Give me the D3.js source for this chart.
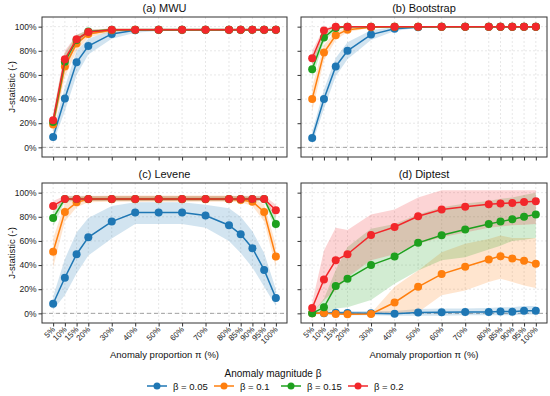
<!DOCTYPE html>
<html>
<head>
<meta charset="utf-8">
<script src="https://cdn.jsdelivr.net/npm/d3@7/dist/d3.min.js"></script>
<style>
  body { margin: 0; background: #fff; }
  svg { font-family: "Liberation Sans", Arial, sans-serif; }
</style>
</head>
<body>
<svg id="chart" width="550" height="396"></svg>
<script>
// anomaly proportions (%)
const props = [5, 10, 15, 20, 30, 40, 50, 60, 70, 80, 85, 90, 95, 100];
const betas = ["β = 0.05", "β = 0.1", "β = 0.15", "β = 0.2"];
const colors = ["#1f77b4", "#ff7f0e", "#1ea01e", "#f2272b"];
const panelTitles = ["(a) MWU", "(b) Bootstrap", "(c) Levene", "(d) Diptest"];
const yTicks = [0, 20, 40, 60, 80, 100];

// J-statistic (%), one row per beta
const mwuMean = [
  [8.5, 40.5, 70.5, 84, 94, 97, 97.5, 97.5, 97.5, 97.5, 97.5, 97.5, 97.5, 97.5],
  [19, 67, 86, 94, 97, 97.5, 97.5, 97.5, 97.5, 97.5, 97.5, 97.5, 97.5, 97.5],
  [21, 71, 89, 96, 97.5, 97.5, 97.5, 97.5, 97.5, 97.5, 97.5, 97.5, 97.5, 97.5],
  [22.5, 73, 89.5, 95.5, 97.5, 97.5, 97.5, 97.5, 97.5, 97.5, 97.5, 97.5, 97.5, 97.5]
];
const mwuLo = [
  [4, 30, 60, 77, 90, 95, 96.5, 96.5, 96.5, 96.5, 96.5, 96.5, 96.5, 96.5],
  [13, 58, 80, 91, 95.5, 96.5, 96.5, 96.5, 96.5, 96.5, 96.5, 96.5, 96.5, 96.5],
  [15, 64, 85, 93.5, 96.5, 96.5, 96.5, 96.5, 96.5, 96.5, 96.5, 96.5, 96.5, 96.5],
  [16, 66, 86, 93.5, 96.5, 96.5, 96.5, 96.5, 96.5, 96.5, 96.5, 96.5, 96.5, 96.5]
];
const mwuHi = [
  [14, 50, 80, 90, 97, 98.5, 98.5, 98.5, 98.5, 98.5, 98.5, 98.5, 98.5, 98.5],
  [25, 75, 91, 97, 98.5, 98.5, 98.5, 98.5, 98.5, 98.5, 98.5, 98.5, 98.5, 98.5],
  [27, 78, 93, 97.5, 98.5, 98.5, 98.5, 98.5, 98.5, 98.5, 98.5, 98.5, 98.5, 98.5],
  [28, 80, 93, 97.5, 98.5, 98.5, 98.5, 98.5, 98.5, 98.5, 98.5, 98.5, 98.5, 98.5]
];

const bootMean = [
  [7.7, 40, 67, 80, 93.4, 98.3, 99.5, 100, 100, 100, 100, 100, 100, 100],
  [40, 78.5, 92.8, 97.5, 99.5, 100, 100, 100, 100, 100, 100, 100, 100, 100],
  [64.7, 91, 98.9, 100, 100, 100, 100, 100, 100, 100, 100, 100, 100, 100],
  [73.8, 96.9, 100, 100, 100, 100, 100, 100, 100, 100, 100, 100, 100, 100]
];
const bootLo = [
  [3, 32, 59, 73, 89, 96.5, 99, 100, 100, 100, 100, 100, 100, 100],
  [30, 72, 89, 95.5, 99, 100, 100, 100, 100, 100, 100, 100, 100, 100],
  [57, 87, 97.5, 99.5, 100, 100, 100, 100, 100, 100, 100, 100, 100, 100],
  [67, 94, 99.5, 100, 100, 100, 100, 100, 100, 100, 100, 100, 100, 100]
];
const bootHi = [
  [13, 48, 74, 87, 97, 99.8, 100, 100, 100, 100, 100, 100, 100, 100],
  [50, 85, 96, 99, 100, 100, 100, 100, 100, 100, 100, 100, 100, 100],
  [72, 95, 100, 100, 100, 100, 100, 100, 100, 100, 100, 100, 100, 100],
  [80, 99, 100, 100, 100, 100, 100, 100, 100, 100, 100, 100, 100, 100]
];

const leveneMean = [
  [8, 29.5, 49, 63, 76, 83.5, 83.5, 83.5, 81, 73, 65.5, 54, 36, 12.7],
  [51, 84, 92, 94.5, 94.5, 94.5, 94.5, 94.5, 94.5, 94.5, 94, 92.5, 84, 47],
  [79, 94.8, 94.8, 94.8, 94.8, 94.8, 94.8, 94.8, 94.8, 94.8, 94.8, 94.8, 94.8, 74],
  [89, 94.8, 94.8, 94.8, 94.8, 94.8, 94.8, 94.8, 94.8, 94.8, 94.8, 94.8, 94.8, 85.4]
];
const leveneLo = [
  [3, 15, 33, 48, 62, 74, 74, 74, 71, 60, 50, 38, 22, 6],
  [38, 76, 88, 92, 92.5, 92.5, 92.5, 92.5, 92.5, 92.5, 92, 89, 76, 38],
  [72, 92.5, 93, 93, 93, 93, 93, 93, 93, 93, 93, 93, 93, 68],
  [85, 93, 93, 93, 93, 93, 93, 93, 93, 93, 93, 93, 93, 80]
];
const leveneHi = [
  [14, 45, 67, 79, 89, 92, 92, 92, 90, 87, 80, 68, 50, 20],
  [62, 91, 96, 97, 97.5, 97.5, 97.5, 97.5, 97.5, 97.5, 97, 96, 90, 57],
  [85, 97, 97, 97, 97, 97, 97, 97, 97, 97, 97, 97, 97, 80],
  [93, 97.5, 97.5, 97.5, 97.5, 97.5, 97.5, 97.5, 97.5, 97.5, 97.5, 97.5, 97.5, 90]
];

const dipMean = [
  [0, 0, 0.5, 0.3, 0, -0.3, 0.8, 0.9, 1.1, 1.2, 1.6, 1.4, 2.2, 2.2],
  [0, 0.3, -0.5, -0.8, -0.5, 9, 22, 32.5, 38.6, 44.6, 47.4, 45.5, 43.5, 41],
  [0, 5, 22.6, 28.6, 40, 47, 58.4, 64.7, 69.4, 74, 76, 78, 80, 82],
  [4.4, 28, 44, 49, 65, 71.6, 80.4, 86, 88.4, 90.4, 91, 91.5, 92.3, 92.8]
];
const dipLo = [
  [-1, -1, -1, -1.5, -1.5, -2, -2, -2, -1.5, -1.5, -1.5, -1.5, -1, -1],
  [-0.5, -0.5, -1, -1.5, -1, 0, 1, 15, 19, 26, 28.6, 26, 23, 21],
  [-0.5, 0, 4, 5, 11, 24.5, 35.5, 44, 46.5, 53, 56, 60, 61, 62.5],
  [0, 11, 19, 30, 44, 49, 57.6, 63, 67, 71, 72, 73, 73.5, 74]
];
const dipHi = [
  [1, 1.5, 2, 2, 2, 2, 3.5, 4, 4, 4.5, 5, 5, 6, 6],
  [0.5, 1, 0.5, 0.5, 0, 22, 35.5, 50.7, 57.6, 61.7, 64.5, 62.5, 62.5, 62.5],
  [0.5, 12, 36, 55, 70, 74, 82, 88, 91, 93, 95, 96, 98, 100],
  [9, 52, 71, 69, 82, 86, 96, 102, 102, 102, 102, 102, 102, 102]
];

const panels = [
  { mean: mwuMean, lo: mwuLo, hi: mwuHi, col: 0, row: 0 },
  { mean: bootMean, lo: bootLo, hi: bootHi, col: 1, row: 0 },
  { mean: leveneMean, lo: leveneLo, hi: leveneHi, col: 0, row: 1 },
  { mean: dipMean, lo: dipLo, hi: dipHi, col: 1, row: 1 }
];

const svg = d3.select("#chart");
const colX = [[42, 287], [301, 547]];
const rowY = [[17, 157], [183, 323]];

panels.forEach((p, i) => {
  const [x0, x1] = colX[p.col];
  const [y0, y1] = rowY[p.row];

  const x = d3.scaleLinear().domain([0.25, 104.75]).range([x0, x1]);
  const y = d3.scaleLinear().domain([-8, 108]).range([y1, y0]);

  const g = svg.append("g");

  g.append("clipPath").attr("id", "clip" + i)
    .append("rect").attr("x", x0).attr("y", y0).attr("width", x1 - x0).attr("height", y1 - y0);

  // grid
  g.append("g").selectAll("line").data(props).join("line")
    .attr("x1", d => x(d)).attr("x2", d => x(d))
    .attr("y1", y0).attr("y2", y1)
    .attr("stroke", "#dcdcdc").attr("stroke-width", 0.7).attr("stroke-dasharray", "2,2");
  g.append("g").selectAll("line").data(yTicks).join("line")
    .attr("x1", x0).attr("x2", x1)
    .attr("y1", d => y(d)).attr("y2", d => y(d))
    .attr("stroke", "#dcdcdc").attr("stroke-width", 0.7).attr("stroke-dasharray", "2,2");

  g.append("line")
    .attr("x1", x0).attr("x2", x1).attr("y1", y(0)).attr("y2", y(0))
    .attr("stroke", "#999").attr("stroke-width", 0.9).attr("stroke-dasharray", "4,3");

  const plot = g.append("g").attr("clip-path", `url(#clip${i})`);

  const area = d3.area()
    .x((d, j) => x(props[j]))
    .y0(d => y(d[0]))
    .y1(d => y(d[1]));
  const line = d3.line()
    .x((d, j) => x(props[j]))
    .y(d => y(d));

  p.mean.forEach((m, k) => {
    const band = p.lo[k].map((lo, j) => [lo, p.hi[k][j]]);
    plot.append("path")
      .attr("d", area(band))
      .attr("fill", colors[k]).attr("fill-opacity", 0.2);
  });

  p.mean.forEach((m, k) => {
    plot.append("path")
      .attr("d", line(m))
      .attr("fill", "none").attr("stroke", colors[k]).attr("stroke-width", 1.5);
    plot.append("g").selectAll("circle").data(m).join("circle")
      .attr("cx", (d, j) => x(props[j]))
      .attr("cy", d => y(d))
      .attr("r", 4)
      .attr("fill", colors[k]);
  });

  // frame
  g.append("rect")
    .attr("x", x0).attr("y", y0).attr("width", x1 - x0).attr("height", y1 - y0)
    .attr("fill", "none").attr("stroke", "#333").attr("stroke-width", 1);

  // axes
  const yAxis = d3.axisLeft(y).tickValues(yTicks).tickSize(3.5).tickPadding(2)
    .tickFormat(p.col === 0 ? (d => d + "%") : "");
  const ya = g.append("g").attr("transform", `translate(${x0},0)`).call(yAxis);
  ya.select(".domain").remove();
  ya.selectAll(".tick line").attr("stroke", "#333");
  ya.selectAll("text").attr("font-size", 8.5).attr("fill", "#222")
    .style("font-family", "Liberation Sans, Arial, sans-serif");

  const xAxis = d3.axisBottom(x).tickValues(props).tickSize(3.5)
    .tickFormat(p.row === 1 ? (d => d + "%") : "");
  const xa = g.append("g").attr("transform", `translate(0,${y1})`).call(xAxis);
  xa.select(".domain").remove();
  xa.selectAll(".tick line").attr("stroke", "#333");
  xa.selectAll("text")
    .attr("font-size", 8).attr("fill", "#222")
    .style("font-family", "Liberation Sans, Arial, sans-serif")
    .attr("text-anchor", "end")
    .attr("dy", null).attr("y", 0)
    .attr("transform", "translate(2,7) rotate(-45)");

  // title
  g.append("text")
    .attr("x", (x0 + x1) / 2).attr("y", y0 - 5)
    .attr("text-anchor", "middle").attr("font-size", 11).attr("fill", "#111")
    .text(panelTitles[i]);

  if (p.col === 0) {
    g.append("text")
      .attr("transform", `translate(15,${(y0 + y1) / 2}) rotate(-90)`)
      .attr("text-anchor", "middle").attr("font-size", 9.5).attr("fill", "#111")
      .text("J-statistic (-)");
  }
  if (p.row === 1) {
    g.append("text")
      .attr("x", (x0 + x1) / 2).attr("y", 358)
      .attr("text-anchor", "middle").attr("font-size", 9.5).attr("fill", "#111")
      .text("Anomaly proportion π (%)");
  }
});

// legend
svg.append("text")
  .attr("x", 273).attr("y", 377)
  .attr("text-anchor", "middle").attr("font-size", 10).attr("fill", "#111")
  .text("Anomaly magnitude β");

const legendX = d3.scalePoint().domain(betas).range([157, 358]);
const items = svg.append("g").selectAll("g").data(betas).join("g")
  .attr("transform", d => `translate(${legendX(d)},386)`);
items.append("line")
  .attr("x1", -10).attr("x2", 10)
  .attr("stroke", (d, k) => colors[k]).attr("stroke-width", 1.5);
items.append("circle").attr("r", 3.5).attr("fill", (d, k) => colors[k]);
items.append("text")
  .attr("x", 16).attr("y", 3.5)
  .attr("font-size", 9.5).attr("fill", "#111")
  .text(d => d);
</script>
</body>
</html>
